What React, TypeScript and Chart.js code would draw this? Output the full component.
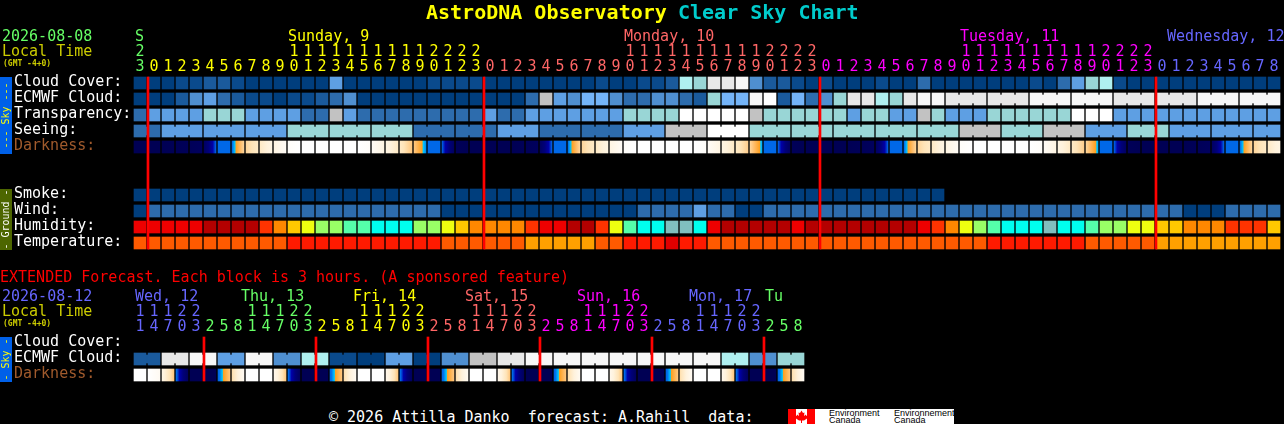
import React, { useEffect, useRef } from "react";
import { Chart, registerables } from "chart.js";

Chart.register(...registerables);

// ---------- DATA ----------
const mainHours = [23,0,1,2,3,4,5,6,7,8,9,10,11,12,13,14,15,16,17,18,19,20,21,22,23,0,1,2,3,4,5,6,7,8,9,10,11,12,13,14,15,16,17,18,19,20,21,22,23,0,1,2,3,4,5,6,7,8,9,10,11,12,13,14,15,16,17,18,19,20,21,22,23,0,1,2,3,4,5,6,7,8];
const extHours = [11,14,17,20,23,2,5,8,11,14,17,20,23,2,5,8,11,14,17,20,23,2,5,8,11,14,17,20,23,2,5,8,11,14,17,20,23,2,5,8,11,14,17,20,23,2,5,8];

const mainRowLabels = ["Cloud Cover:", "ECMWF Cloud:", "Transparency:", "Seeing:", "Darkness:", "Smoke:", "Wind:", "Humidity:", "Temperature:"];
const mainRowSlots = [0, 1, 2, 3, 4, 7, 8, 9, 10];
const extRowLabels = ["Cloud Cover:", "ECMWF Cloud:", "Darkness:"];
const extRowSlots = [0, 1, 2];

// sky condition levels, 0 = clear/excellent ... 12 = overcast/poor
const cloudCover = [0,0,0,1,1,2,2,1,0,0,0,0,0,0,5,0,0,0,0,0,0,1,1,1,1,0,0,0,0,0,0,0,0,1,0,0,1,1,2,8,7,10,10,11,4,2,2,1,0,1,0,0,0,1,0,0,3,0,0,0,0,0,0,0,1,0,3,5,7,8,1,0,0,0,0,0,0,0,0,0,0,0];
const ecmwfCloud = [0,0,0,2,4,5,3,2,1,1,0,1,1,2,3,4,0,0,0,0,0,0,0,0,0,0,0,0,3,9,5,4,6,6,4,3,3,4,4,3,2,7,6,6,11,12,2,6,3,4,7,10,10,8,7,10,11,11,10,10,10,10,10,10,11,11,11,11,11,11,10,10,10,10,10,10,11,11,11,11,11,11];
const transparency = [3,5,5,5,5,7,7,7,5,5,5,5,3,3,9,5,3,3,3,3,3,3,3,3,3,5,3,3,5,5,5,5,5,5,5,7,7,7,7,12,12,12,12,12,9,7,7,7,7,7,7,5,7,7,5,5,9,7,5,5,5,7,7,7,7,7,7,12,12,12,5,5,5,5,5,5,5,5,5,5,5,5];
const seeing = [3,3,5,5,5,5,5,5,5,5,5,7,7,7,7,7,7,7,7,7,3,3,3,3,3,3,5,5,5,3,3,3,3,3,3,5,5,5,9,9,9,12,12,12,7,7,7,7,7,7,7,7,7,7,7,7,7,7,7,9,9,9,7,7,7,9,9,9,5,5,5,7,7,7,5,5,5,5,5,5,5,5];
const smoke = [0,0,0,0,0,0,0,0,0,0,0,0,0,0,0,0,0,0,0,0,0,0,0,0,0,0,0,0,0,0,0,0,0,0,0,0,0,0,0,0,0,0,0,0,0,0,0,0,0,0,0,0,0,0,0,0,0,0];
const wind = [0,3,3,3,3,3,3,3,3,3,3,3,3,3,3,3,3,3,3,3,3,3,0,0,0,0,0,0,0,0,0,0,0,0,0,0,3,3,3,3,5,3,3,0,0,3,3,3,3,3,3,3,3,3,3,3,3,3,3,3,3,3,3,3,3,3,3,3,3,3,3,3,3,3,3,0,0,0,3,3,3,3];
const humidity = [1,1,1,1,1,0,0,0,0,2,3,4,5,6,6,7,7,8,8,8,6,6,5,4,3,3,3,3,2,1,1,0,0,2,5,7,8,8,9,9,8,1,0,0,0,0,0,1,0,0,0,0,0,0,0,0,1,2,3,5,6,7,8,8,8,9,8,8,7,6,6,5,5,4,4,3,3,3,2,2,2,4];
const temperature = [2,2,2,2,2,2,2,2,2,2,2,1,1,1,1,1,1,1,1,1,1,1,2,2,2,2,2,2,3,3,3,3,3,2,2,1,1,1,0,1,1,2,2,2,2,2,2,2,2,2,2,2,2,2,2,2,2,2,2,2,2,1,1,1,1,1,1,1,2,2,2,2,2,3,3,3,3,3,3,3,3,3];
// darkness at the left and right side of each block (0 night ... 5 full daylight)
const darkFrom = [0.1,0.1,0.1,0.15,0.2,0.4,2,2.1,3.3,3.7,4.2,4.8,5,5,5,5,5,4.7,4.2,3.7,3.1,2,1.9,0.2,0.1,0.1,0.1,0.1,0.2,0.4,2,2.1,3.3,3.7,4.2,4.8,5,5,5,5,5,4.7,4.2,3.7,3.3,2,1.9,0.2,0.1,0.1,0.1,0.1,0.2,0.4,2,2.1,3.3,3.7,4.2,4.8,5,5,5,5,5,4.7,4.2,3.7,3.3,2,1.9,0.2,0.1,0.1,0.1,0.1,0.2,0.4,2,2.1,3.3,3.7];
const darkTo = [0.1,0.1,0.15,0.2,0.3,1.9,2,3.3,3.7,4.2,4.7,5,5,5,5,5,4.8,4.2,3.7,3.1,2.2,2,0.4,0.1,0.1,0.1,0.1,0.2,0.3,1.9,2,3.3,3.7,4.2,4.7,5,5,5,5,5,4.8,4.2,3.7,3.2,2.3,2,0.4,0.1,0.1,0.1,0.1,0.2,0.3,1.9,2,3.3,3.7,4.2,4.7,5,5,5,5,5,4.8,4.2,3.7,3.2,2.3,2,0.4,0.1,0.1,0.1,0.1,0.2,0.3,1.9,2,3.3,3.7,4.2];

const extEcmwf = [2,2,10,10,11,11,5,5,11,11,4,4,8,8,1,1,0,0,5,5,0,0,4,4,9,9,10,10,11,11,11,11,11,11,11,11,11,11,11,11,11,11,8,8,4,4,7,7];
const extDarkFrom = [5,5,4.2,2,0.1,0.1,2,3.4,5,5,4.4,2,0.1,0.1,2,3.4,5,5,4.4,2,0.1,0.1,2,3.4,5,5,4.4,2,0.1,0.1,2,3.4,5,5,4.4,2,0.1,0.1,2,3.4,5,5,4.4,2,0.1,0.1,2,3.4];
const extDarkTo = [5,4.6,3.1,0.3,0.1,0.1,3.1,4.6,5,5,3.1,0.3,0.1,0.1,3.1,4.6,5,5,3.1,0.3,0.1,0.1,3.1,4.6,5,5,3.1,0.3,0.1,0.1,3.1,4.6,5,5,3.1,0.3,0.1,0.1,3.1,4.6,5,5,3.1,0.3,0.1,0.1,3.1,4.6];

// blocks forecast as one (first and last column)
const seeingSpans = [[0,1],[2,4],[5,7],[8,10],[11,13],[14,16],[17,19],[20,22],[23,25],[26,28],[29,31],[32,34],[35,37],[38,40],[41,43],[44,46],[47,49],[50,52],[53,55],[56,58],[59,61],[62,64],[65,67],[68,70],[71,73],[74,76],[77,79],[80,81]];
const ecmwfSpans = [[58,60],[61,63],[64,66],[67,69],[70,72],[73,75],[76,78],[79,81]];
const extEcmwfSpans = [[0,1],[2,3],[4,5],[6,7],[8,9],[10,11],[12,13],[14,15],[16,17],[18,19],[20,21],[22,23],[24,25],[26,27],[28,29],[30,31],[32,33],[34,35],[36,37],[38,39],[40,41],[42,43],[44,45],[46,47]];

const midnightsMain = [0.57, 24.57, 48.57, 72.57];
const midnightsExt = [4.57, 12.57, 20.57, 28.57, 36.57, 44.57];

const mainDayStarts = [0, 1, 25, 49, 73];
const extDayStarts = [0, 5, 13, 21, 29, 37, 45];
const mainDayHeads = ["S", "Sunday, 9", "Monday, 10", "Tuesday, 11", "Wednesday, 12"];
const mainDayHeadAt = [0.07, 11, 35, 59, 73.79];
const extDayHeads = ["Wed, 12", "Thu, 13", "Fri, 14", "Sat, 15", "Sun, 16", "Mon, 17", "Tu"];
const extDayHeadAt = [0.07, 7.64, 15.64, 23.64, 31.64, 39.64, 45.07];

// ---------- STYLE ----------
const MONO = '"DejaVu Sans Mono", monospace';
const GREEN = "#66ff66", YELLOW = "#ffff00", SALMON = "#ff6666", MAGENTA = "#ff00ff", BLUE = "#6666ff";
const mainDayColors = [GREEN, YELLOW, SALMON, MAGENTA, BLUE];
const extDayColors = [BLUE, GREEN, YELLOW, SALMON, MAGENTA, BLUE, GREEN];
const skyPalette = ["#003e7d","#0a4a8c","#1a5a9c","#2d6cad","#4f8fd0","#5e9fe3","#74b4f8","#99d6d6","#aff0f0","#c2c2c2","#e8e8e8","#f7f7f7","#ffffff"];
const humidityPalette = ["#b40000","#ee0000","#ff3300","#ff8800","#ffc800","#eeff10","#99ff66","#55ffaa","#00ffee","#80bfbf"];
const tempPalette = ["#e00000","#ff1a00","#ff5a00","#ffa000"];
const darkStops: [number, string][] = [[0,"#000050"],[1,"#00007a"],[1.5,"#0000a8"],[1.9,"#0068e8"],[2.1,"#0068e8"],[2.4,"#00c8ff"],[2.5,"#ffa020"],[3,"#ffc070"],[3.5,"#ffe4b8"],[4,"#fff2dc"],[4.6,"#fffaf2"],[5,"#ffffff"]];
const RED = "#ff0000";
const LABEL_NUDGE = -0.06;

const hex = (c: string) => [1, 3, 5].map((k) => parseInt(c.slice(k, k + 2), 16));
function darkColor(v: number) {
  for (let k = 1; k < darkStops.length; k++) {
    const [p0, c0] = darkStops[k - 1];
    const [p1, c1] = darkStops[k];
    if (v <= p1) {
      const t = Math.max(0, (v - p0) / (p1 - p0));
      const a = hex(c0), b = hex(c1);
      return `rgb(${a.map((x, j) => Math.round(x + (b[j] - x) * t)).join(",")})`;
    }
  }
  return "#ffffff";
}

const colOfDay = (starts: number[], colors: string[], i: number) => {
  let c = colors[0];
  starts.forEach((s, k) => { if (i >= s) c = colors[k]; });
  return c;
};

const cellDataset = (slot: number, values: number[], palette: string[]) => ({
  data: values.map((_, i) => ({ x: i, y: [slot - 0.375, slot + 0.375] })),
  backgroundColor: values.map((v) => palette[v]),
  barThickness: 12,
  grouped: false,
  borderWidth: 0,
});

const bridgeDataset = (slot: number, values: number[], spans: number[][]) => {
  const cols: number[] = [];
  spans.forEach(([a, b]) => { for (let i = a; i < b; i++) cols.push(i); });
  return {
    data: cols.map((i) => ({ x: i + 0.5, y: [slot - 0.25, slot + 0.25] })),
    backgroundColor: cols.map((i) => skyPalette[values[i]]),
    barThickness: 2,
    grouped: false,
    borderWidth: 0,
  };
};

const darkDataset = (slot: number, from: number[], to: number[]) => ({
  data: from.map((_, i) => ({ x: i, y: [slot - 0.375, slot + 0.375] })),
  backgroundColor: (ctx: any) => {
    const i = ctx.dataIndex;
    const scale = ctx.chart.scales.x;
    const px = scale && i !== undefined ? scale.getPixelForValue(i) : NaN;
    if (!Number.isFinite(px)) return "#000050";
    const g = ctx.chart.ctx.createLinearGradient(px - 6, 0, px + 6, 0);
    const a = from[i], b = to[i];
    g.addColorStop(0, darkColor(a));
    darkStops.forEach(([p]) => {
      const t = (p - a) / (b - a);
      if (b !== a && t > 0 && t < 1) g.addColorStop(t, darkColor(p));
    });
    g.addColorStop(1, darkColor(b));
    return g;
  },
  barThickness: 12,
  grouped: false,
  borderWidth: 0,
});

const redDataset = (cols: number[], top: number, bottom: number) => ({
  data: cols.map((c) => ({ x: c, y: [top, bottom] })),
  backgroundColor: RED,
  barThickness: 2,
  grouped: false,
  borderWidth: 0,
});

type TextItem = { t: string; x: number; y: number; c: string; f: string };
type Strip = { top: number; bottom: number; fill: string; color: string; text: string };

function makeConfig(opts: {
  datasets: any[]; ymax: number; slots: number[]; labels: string[]; hours: number[];
  axisHeight: number; dayStarts: number[]; dayColors: string[]; heads: string[]; headAt: number[];
  headY: number; texts: TextItem[]; strips: Strip[]; bottomPad: number;
}): any {
  const o = opts;
  return {
    type: "bar",
    data: { datasets: o.datasets },
    options: {
      animation: false, responsive: false, devicePixelRatio: 1, events: [],
      layout: { padding: { left: 14, right: 3, top: 0, bottom: o.bottomPad } },
      plugins: { legend: { display: false }, tooltip: { enabled: false }, title: { display: false } },
      scales: {
        x: {
          type: "linear", position: "top", min: -0.5, max: 81.5, offset: false,
          grid: { display: false, drawTicks: false }, border: { display: false },
          afterBuildTicks: (a: any) => { a.ticks = o.hours.map((_, i) => ({ value: i })); },
          afterFit: (a: any) => { a.height = o.axisHeight; a.paddingLeft = 0; a.paddingRight = 0; },
          ticks: {
            autoSkip: false, maxRotation: 0, minRotation: 0, padding: 0.5,
            font: { family: MONO, size: 15, lineHeight: 1 },
            color: (c: any) => colOfDay(o.dayStarts, o.dayColors, c.index),
            callback: (_: any, i: number) => {
              const h = o.hours[i];
              return h >= 10 ? [String(h).charAt(0), String(h).charAt(1)] : ["", String(h)];
            },
          },
        },
        y: {
          type: "linear", reverse: true, min: -0.5, max: o.ymax, position: "left",
          grid: { display: false, drawTicks: false }, border: { display: false },
          afterBuildTicks: (a: any) => { a.ticks = o.slots.map((v) => ({ value: v + LABEL_NUDGE })); },
          afterFit: (a: any) => { a.width = 119; a.paddingTop = 0; a.paddingBottom = 0; },
          ticks: {
            autoSkip: false, crossAlign: "far", padding: 0,
            font: { family: MONO, size: 15, lineHeight: 1 },
            color: (c: any) => (o.labels[c.index] === "Darkness:" ? "#a05a2c" : "#ffffff"),
            callback: (_: any, i: number) => o.labels[i],
          },
        },
      },
    },
    plugins: [{
      id: "cscText",
      afterDraw(chart: any) {
        const ctx = chart.ctx;
        ctx.save();
        ctx.textBaseline = "middle";
        ctx.textAlign = "left";
        o.texts.forEach((s) => { ctx.font = s.f; ctx.fillStyle = s.c; ctx.fillText(s.t, s.x, s.y); });
        ctx.font = `15px ${MONO}`;
        o.heads.forEach((h, k) => {
          ctx.fillStyle = o.dayColors[k];
          ctx.fillText(h, chart.scales.x.getPixelForValue(o.headAt[k]) - 6, o.headY);
        });
        o.strips.forEach((s) => {
          ctx.fillStyle = s.fill;
          ctx.fillRect(0, s.top, 12, s.bottom - s.top);
          ctx.save();
          ctx.translate(6, (s.top + s.bottom) / 2);
          ctx.rotate(-Math.PI / 2);
          ctx.textAlign = "center";
          ctx.font = `10px ${MONO}`;
          ctx.fillStyle = s.color;
          ctx.fillText(s.text, 0, 0);
          ctx.restore();
        });
        ctx.restore();
      },
    }],
  };
}

const smallFont = `bold 8px ${MONO}`;
const textFont = `15px ${MONO}`;
const titleFont = `bold 20px ${MONO}`;

const mainTexts: TextItem[] = [
  { t: "AstroDNA Observatory", x: 426, y: 14, c: "#ffff00", f: titleFont },
  { t: "Clear Sky Chart", x: 678, y: 14, c: "#00cccc", f: titleFont },
  { t: "2026-08-08", x: 2, y: 37, c: GREEN, f: textFont },
  { t: "Local Time", x: 2, y: 52, c: "#cccc00", f: textFont },
  { t: "(GMT -4+0)", x: 3, y: 64, c: "#cccc00", f: smallFont },
];
const extTexts: TextItem[] = [
  { t: "EXTENDED Forecast. Each block is 3 hours. (A sponsored feature)", x: 0, y: 16, c: "#ff0000", f: textFont },
  { t: "2026-08-12", x: 2, y: 35, c: BLUE, f: textFont },
  { t: "Local Time", x: 2, y: 50, c: "#cccc00", f: textFont },
  { t: "(GMT -4+0)", x: 3, y: 62, c: "#cccc00", f: smallFont },
];

export default function App() {
  const topRef = useRef<HTMLCanvasElement>(null);
  const extRef = useRef<HTMLCanvasElement>(null);

  useEffect(() => {
    document.body.style.margin = "0";
    document.body.style.background = "#000";
    const main = new Chart(topRef.current!, makeConfig({
      datasets: [
        redDataset(midnightsMain, -0.375, 10.375),
        cellDataset(0, cloudCover, skyPalette),
        cellDataset(1, ecmwfCloud, skyPalette),
        bridgeDataset(1, ecmwfCloud, ecmwfSpans),
        cellDataset(2, transparency, skyPalette),
        cellDataset(3, seeing, skyPalette),
        bridgeDataset(3, seeing, seeingSpans),
        darkDataset(4, darkFrom, darkTo),
        cellDataset(7, smoke, skyPalette),
        cellDataset(8, wind, skyPalette),
        cellDataset(9, humidity, humidityPalette),
        cellDataset(10, temperature, tempPalette),
      ],
      ymax: 10.5, slots: mainRowSlots, labels: mainRowLabels, hours: mainHours,
      axisHeight: 75, dayStarts: mainDayStarts, dayColors: mainDayColors,
      heads: mainDayHeads, headAt: mainDayHeadAt, headY: 37, texts: mainTexts, bottomPad: 5,
      strips: [
        { top: 77, bottom: 154, fill: "#0060e8", color: "#ffff00", text: "--- Sky ---" },
        { top: 189, bottom: 250, fill: "#4d6600", color: "#ffffff", text: "- Ground -" },
      ],
    }));
    const ext = new Chart(extRef.current!, makeConfig({
      datasets: [
        redDataset(midnightsExt, -0.375, 2.375),
        cellDataset(1, extEcmwf, skyPalette),
        bridgeDataset(1, extEcmwf, extEcmwfSpans),
        darkDataset(2, extDarkFrom, extDarkTo),
      ],
      ymax: 2.5, slots: extRowSlots, labels: extRowLabels, hours: extHours,
      axisHeight: 73, dayStarts: extDayStarts, dayColors: extDayColors,
      heads: extDayHeads, headAt: extDayHeadAt, headY: 35, texts: extTexts, bottomPad: 5,
      strips: [{ top: 75, bottom: 120, fill: "#0060e8", color: "#ffff00", text: "- Sky -" }],
    }));
    return () => { main.destroy(); ext.destroy(); };
  }, []);

  return (
    <div style={{ position: "relative", width: 1284, height: 424, background: "#000", overflow: "hidden" }}>
      <canvas ref={topRef} width={1284} height={256} style={{ position: "absolute", left: 0, top: 0, width: 1284, height: 256 }} />
      <canvas ref={extRef} width={1284} height={126} style={{ position: "absolute", left: 0, top: 262, width: 1284, height: 126 }} />
      <div style={{ position: "absolute", left: 329, top: 408, color: "#fff", font: `15px/18px ${MONO}`, whiteSpace: "pre" }}>
        {"© 2026 Attilla Danko  forecast: A.Rahill  data:"}
      </div>
      <div style={{ position: "absolute", left: 788, top: 409, width: 166, height: 15, background: "#fff", overflow: "hidden" }}>
        <svg width="27" height="15" viewBox="0 0 27 15" style={{ position: "absolute", left: 0, top: 0 }}>
          <rect x="0" y="0" width="8" height="15" fill="#ff0000" />
          <rect x="19" y="0" width="8" height="15" fill="#ff0000" />
          <polygon fill="#ff0000" points="13.5,1.5 15,4 16.5,3.5 16,7 18,5.5 18.5,7 20,7 19,9.5 16,11.5 14,11.5 14,14 13,14 13,11.5 11,11.5 8,9.5 7,7 8.5,7 9,5.5 11,7 10.5,3.5 12,4" />
        </svg>
        {[["Environment", 41, 0], ["Canada", 41, 7], ["Environnement", 106, 0], ["Canada", 106, 7]].map(([t, x, y], k) => (
          <div key={k} style={{ position: "absolute", left: x as number, top: y as number, color: "#000", font: '9px/8px "Liberation Sans", sans-serif', whiteSpace: "nowrap" }}>{t}</div>
        ))}
      </div>
    </div>
  );
}
